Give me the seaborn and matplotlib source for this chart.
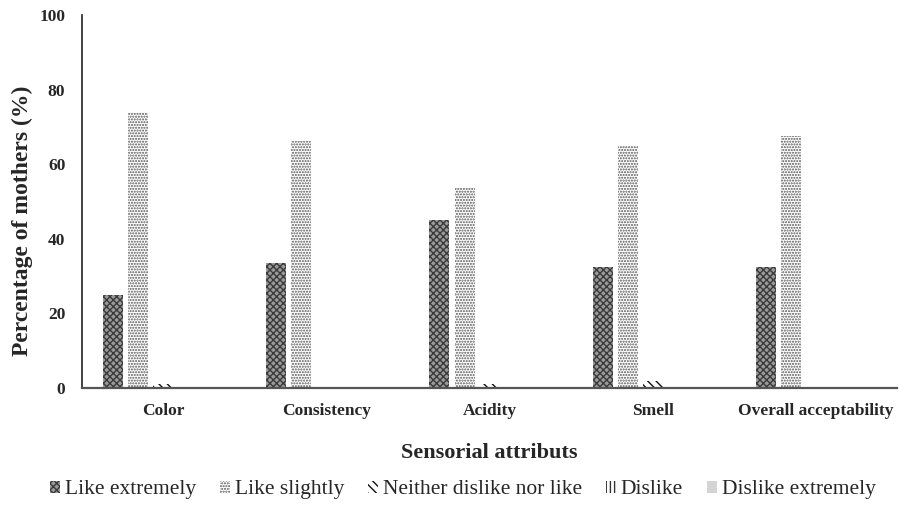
import matplotlib
matplotlib.use("Agg")
import matplotlib.pyplot as plt
import seaborn as sns
import pandas as pd
from matplotlib.patches import Patch

categories = ["Color", "Consistency", "Acidity", "Smell", "Overall acceptability"]
responses = ["Like extremely", "Like slightly", "Neither dislike nor like", "Dislike", "Dislike extremely"]
like_extremely = [25, 33.5, 45, 32.5, 32.5]
like_slightly = [74, 66.3, 53.8, 65, 67.5]
neither = [1, 0, 1, 2, 0]
dislike = [0, 0, 0, 0, 0]
dislike_extremely = [0, 0, 0, 0, 0]
yticks = [0, 20, 40, 60, 80, 100]

series = [like_extremely, like_slightly, neither, dislike, dislike_extremely]
rows = []
for resp, vals in zip(responses, series):
    for cat, v in zip(categories, vals):
        rows.append({"attribute": cat, "response": resp, "value": v})
df = pd.DataFrame(rows)

sns.set_theme(style="white")
plt.rcParams["font.family"] = ["Liberation Serif", "DejaVu Serif"]
plt.rcParams["hatch.linewidth"] = 1.0

styles = {
    "Like extremely": dict(face="#9a9a9a", hatch="xxxxx", hc="#3a3a3a"),
    "Like slightly": dict(face="#ffffff", hatch="......", hc="#555555"),
    "Neither dislike nor like": dict(face="#ffffff", hatch="\\\\\\\\", hc="#111111"),
    "Dislike": dict(face="#ffffff", hatch="||||", hc="#333333"),
    "Dislike extremely": dict(face="#d4d4d4", hatch="", hc="#d4d4d4"),
}

fig = plt.figure(figsize=(9.07, 5.13), dpi=100)
ax = fig.add_axes([0.0904, 0.2437, 0.8986, 0.7263])

sns.barplot(data=df, x="attribute", y="value", hue="response", order=categories,
            hue_order=responses, width=0.767, gap=0.2, ax=ax, legend=False,
            errorbar=None, palette=["#ffffff"] * 5)

n = len(categories)
for i, p in enumerate(ax.patches):
    resp = responses[i // n]
    st = styles[resp]
    p.set_facecolor(st["face"])
    p.set_hatch(st["hatch"])
    p.set_edgecolor(st["hc"])
    p.set_linewidth(0)

ax.set_ylim(0, 100)
ax.set_xlim(-0.5, n - 0.5)
ax.set_yticks(yticks)
ax.set_yticklabels([str(t) for t in yticks], fontsize=12.5, fontweight="bold")
ax.set_xticks(range(n))
ax.set_xticklabels(categories, fontsize=12.5, fontweight="bold")
ax.tick_params(axis="y", length=0, pad=12)
ax.tick_params(axis="x", length=0, pad=11)
ax.set_xlabel("Sensorial attributs", fontsize=16, fontweight="bold", labelpad=17)
ax.set_ylabel("Percentage of mothers (%)", fontsize=17, fontweight="bold")
ax.yaxis.set_label_coords(-0.060, 0.45)

for s in ["top", "right"]:
    ax.spines[s].set_visible(False)
ax.spines["left"].set_color("#222222")
ax.spines["left"].set_linewidth(1.2)
ax.spines["bottom"].set_color("#555555")
ax.spines["bottom"].set_linewidth(1.6)
ax.grid(False)

handles = []
for resp in responses:
    st = styles[resp]
    handles.append(Patch(facecolor=st["face"], hatch=st["hatch"], edgecolor=st["hc"],
                         linewidth=0, label=resp))
fig.legend(handles=handles, loc="center", bbox_to_anchor=(0.51, 0.045), ncol=5,
           frameon=False, fontsize=15.5, handlelength=0.5, handleheight=0.5,
           handletextpad=0.2, columnspacing=1.1)

fig.savefig("out.png", dpi=100)
